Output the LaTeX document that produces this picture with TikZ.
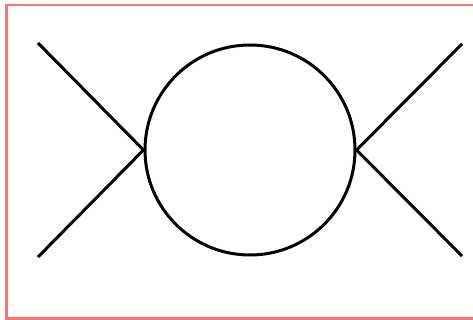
\documentclass[tikz,border=0pt]{standalone}
\begin{document}
\begin{tikzpicture}[x=1pt, y=-1pt, line width=3pt]
    % 边界
    \useasboundingbox (0, 0) rectangle (473, 320);
    \draw[red!55, line width=2.2pt] (6.5, 330) -- (6.5, 5) -- (480, 5);
    \draw[red!55, line width=2.2pt] (6.5, 318.5) -- (480, 318.5);

    % 圆圈
    \node[draw, circle, minimum size=210pt, inner sep=0pt, line width=3pt] (loop) at (250, 150) {};

    % 四条外线
    \coordinate (in1) at (38, 43);
    \coordinate (in2) at (38, 257);
    \coordinate (out1) at (462, 44);
    \coordinate (out2) at (462, 256);
    \draw (in1) -- (loop.west);
    \draw (in2) -- (loop.west);
    \draw (out1) -- (loop.east);
    \draw (out2) -- (loop.east);
\end{tikzpicture}
\end{document}
